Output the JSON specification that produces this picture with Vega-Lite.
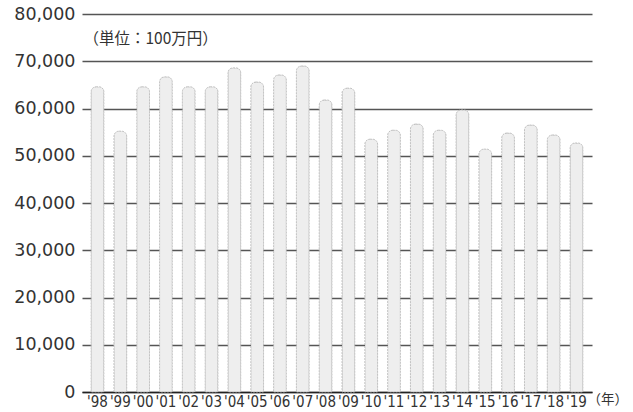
{
  "$schema": "https://vega.github.io/schema/vega-lite/v6.json",
  "autosize": "none",
  "width": 510,
  "height": 378,
  "padding": {"left": 82, "top": 14, "right": 41, "bottom": 20},
  "background": "white",
  "data": {"values": [
    {"year": "'98", "value": 64600},
    {"year": "'99", "value": 55200},
    {"year": "'00", "value": 64600},
    {"year": "'01", "value": 66700},
    {"year": "'02", "value": 64600},
    {"year": "'03", "value": 64600},
    {"year": "'04", "value": 68600},
    {"year": "'05", "value": 65600},
    {"year": "'06", "value": 67100},
    {"year": "'07", "value": 69000},
    {"year": "'08", "value": 61800},
    {"year": "'09", "value": 64300},
    {"year": "'10", "value": 53500},
    {"year": "'11", "value": 55400},
    {"year": "'12", "value": 56700},
    {"year": "'13", "value": 55400},
    {"year": "'14", "value": 59700},
    {"year": "'15", "value": 51400},
    {"year": "'16", "value": 54800},
    {"year": "'17", "value": 56500},
    {"year": "'18", "value": 54400},
    {"year": "'19", "value": 52700}
  ]},
  "config": {"view": {"stroke": null}},
  "mark": {
    "type": "bar",
    "fill": "#eeeeee",
    "stroke": "#b5b5b5",
    "strokeWidth": 0.8,
    "strokeDash": [2, 1],
    "cornerRadiusTopLeft": 5,
    "cornerRadiusTopRight": 5
  },
  "encoding": {
    "x": {
      "field": "year",
      "type": "ordinal",
      "sort": null,
      "scale": {"paddingInner": 0.44, "paddingOuter": 0.4},
      "axis": {
        "title": "（年）",
        "titleFont": "Noto Sans CJK JP",
        "titleFontSize": 13.5,
        "titleFontWeight": "normal",
        "titleColor": "#333",
        "titleAlign": "left",
        "titleAnchor": "start",
        "titleBaseline": "middle",
        "titleX": 505,
        "titleY": 7,
        "labelAngle": 0,
        "labelFont": "Liberation Sans Narrow, DejaVu Sans Condensed, Arial Narrow, sans-serif",
        "labelFontSize": 15,
        "labelColor": "#333",
        "labelPadding": 2,
        "ticks": false,
        "domain": true,
        "domainColor": "#222",
        "domainWidth": 1.6,
        "grid": false
      }
    },
    "y": {
      "field": "value",
      "type": "quantitative",
      "scale": {"domain": [0, 80000], "nice": false},
      "axis": {
        "title": "（単位：100万円）",
        "titleFont": "Noto Sans CJK JP",
        "titleFontSize": 15.5,
        "titleFontWeight": "normal",
        "titleColor": "#333",
        "titleAngle": 0,
        "titleAlign": "left",
        "titleBaseline": "middle",
        "titleX": 1,
        "titleY": 24,
        "values": [0, 10000, 20000, 30000, 40000, 50000, 60000, 70000, 80000],
        "format": ",d",
        "labelFont": "DejaVu Sans, sans-serif",
        "labelFontSize": 17.5,
        "labelColor": "#333",
        "labelPadding": 7,
        "ticks": false,
        "domain": false,
        "grid": true,
        "gridColor": "#555",
        "gridWidth": 1.3
      }
    }
  }
}
